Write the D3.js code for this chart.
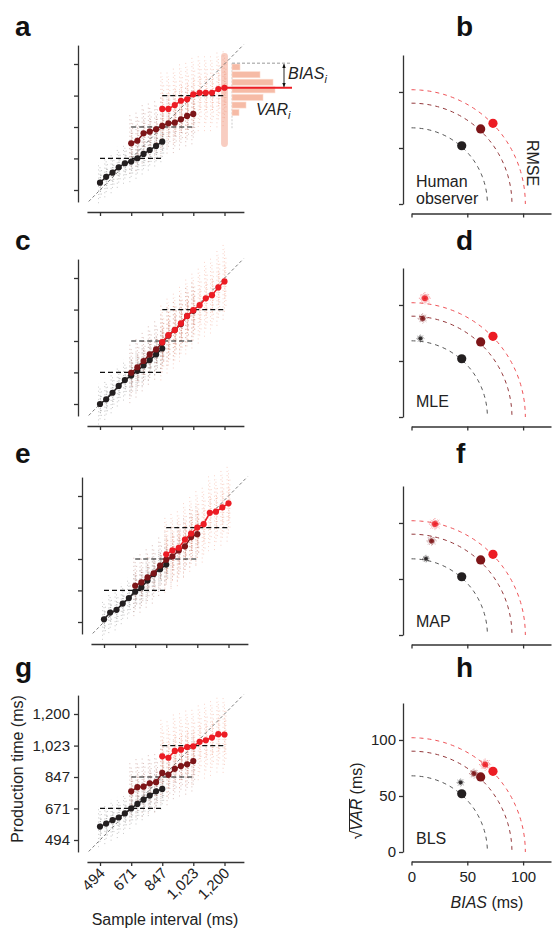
<!DOCTYPE html>
<html>
<head>
<meta charset="utf-8">
<script src="https://cdn.jsdelivr.net/npm/d3@7"></script>
<style>
  body { margin: 0; background: #fff; }
  svg { display: block; font-family: "Liberation Sans", Arial, sans-serif; }
</style>
</head>
<body>
<svg id="chart" width="552" height="930"></svg>
<script>
// ---- data ----
const sampleIntervals = [494, 529, 565, 600, 635, 671, 706, 741, 776, 812, 847,
                         882, 918, 953, 988, 1023, 1059, 1094, 1129, 1165, 1200];
const priorStart = [0, 5, 10];           // first sample interval of short / medium / long prior
const priorMeans = [671, 847, 1023];
const axisTicks = [494, 671, 847, 1023, 1200];
const axisTickLabels = ['494', '671', '847', '1,023', '1,200'];

// mean production times (ms) for each prior
const humanShort  = [535, 568, 591, 621, 644, 653, 672, 696, 718, 741, 765];
const humanMedium = [756, 770, 812, 821, 834, 853, 868, 871, 890, 909, 920];
const humanLong   = [948, 948, 970, 994, 1002, 1030, 1039, 1039, 1039, 1060, 1067];

const mleShort  = [494, 520, 557, 595, 628, 653, 680, 710, 740, 772, 805];
const mleMedium = [669, 700, 735, 772, 800, 837, 877, 908, 942, 987, 1016];
const mleLong   = [841, 880, 908, 946, 987, 1020, 1048, 1086, 1104, 1147, 1181];

const mapShort  = [509, 547, 562, 597, 628, 664, 688, 726, 763, 790, 816];
const mapMedium = [697, 716, 744, 767, 810, 843, 861, 895, 918, 970, 986];
const mapLong   = [873, 895, 910, 956, 990, 1023, 1042, 1106, 1112, 1136, 1159];

const blsShort  = [569, 586, 605, 620, 643, 671, 696, 720, 743, 767, 780];
const blsMedium = [767, 790, 793, 812, 818, 870, 859, 893, 908, 918, 936];
const blsLong   = [963, 955, 993, 1000, 1015, 1019, 1044, 1053, 1068, 1087, 1085];

// approximate half range of the raw trial clouds (ms)
const cloudHalfRange = [115, 170, 215];

// histogram of production times at the longest interval (panel a)
const histBinCenters = [1183, 1140, 1098, 1055, 1013, 970, 928];
const histCounts = [8, 28, 41, 43, 31, 14, 7];
const highlightRange = [735, 1262];      // extent of the highlighted trial column (ms)

// BIAS / sqrt(VAR) (ms)
const rmseRadii = [68, 90, 102];
const humanBias = [45, 62, 73];
const humanSqrtVar = [52, 67, 72];
const mleBias = [8, 10, 12];
const mleSqrtVar = [70, 88, 106];
const mapBias = [13, 18, 21];
const mapSqrtVar = [68, 84, 99];
const blsBias = [44, 56, 66];
const blsSqrtVar = [62, 70, 78];
const rmseTicks = [0, 50, 100];

// ---- style ----
const COLORS = ['#231f20', '#7d1518', '#ec1c24'];
const CLOUD = ['#777', '#a8645a', '#f29276'];
const ARC = ['#555', '#93383b', '#ef5257'];
const AXIS = '#333';

const svg = d3.select('#chart');

const defs = svg.append('defs');
defs.append('marker')
  .attr('id', 'arr').attr('viewBox', '0 0 6 6').attr('refX', 5.5).attr('refY', 3)
  .attr('markerWidth', 5).attr('markerHeight', 5).attr('orient', 'auto-start-reverse')
  .append('path').attr('d', 'M0,0.5 L6,3 L0,5.5 z').attr('fill', '#111');

function styleAxis(sel) {
  sel.select('.domain').attr('stroke', AXIS).attr('stroke-width', 1.3);
  sel.selectAll('.tick line').attr('stroke', AXIS).attr('stroke-width', 1.3);
  sel.selectAll('.tick text').attr('fill', '#222').attr('font-size', 15)
    .attr('font-family', '"Liberation Sans", Arial, sans-serif');
}

function panelLabel(txt, x, y) {
  svg.append('text').attr('x', x).attr('y', y).attr('font-size', 28)
    .attr('font-weight', 'bold').attr('fill', '#111').text(txt);
}

// ---- left column: production time vs sample interval ----
const leftPanels = [
  { label: 'a', labelY: 36,  top: 64,  dx: 0, series: [humanShort, humanMedium, humanLong] },
  { label: 'c', labelY: 250, top: 278, dx: 0, series: [mleShort, mleMedium, mleLong] },
  { label: 'e', labelY: 463, top: 496, dx: 4, series: [mapShort, mapMedium, mapLong] },
  { label: 'g', labelY: 677, top: 714, dx: 0, series: [blsShort, blsMedium, blsLong], labels: true }
];

function drawLeft(p) {
  const g = svg.append('g');
  const x = d3.scaleLinear().domain([494, 1200]).range([100 + p.dx, 224.5 + p.dx]);
  const y = d3.scaleLinear().domain([494, 1200]).range([p.top + 126, p.top]);

  panelLabel(p.label, 15, p.labelY);

  // highlight column (panel a only)
  if (p.label === 'a') {
    g.append('rect')
      .attr('x', x(1200) - 3.4).attr('width', 6.8)
      .attr('y', y(highlightRange[1])).attr('height', y(highlightRange[0]) - y(highlightRange[1]))
      .attr('rx', 3.4).attr('fill', '#f4ab98').attr('opacity', 0.6);
  }

  // raw trial clouds
  p.series.forEach((vals, s) => {
    const xs = sampleIntervals.slice(priorStart[s], priorStart[s] + vals.length);
    const h = cloudHalfRange[s];
    xs.forEach((si, k) => {
      const m = vals[k];
      [[-1.4, '1 3.1', 0, 1], [0, '1 2.3', 1.1, 0.85], [1.4, '1 3.7', 2.2, 0.7]].forEach(([off, dash, dof, f]) => {
        g.append('line')
          .attr('x1', x(si) + off).attr('x2', x(si) + off)
          .attr('y1', y(m - h * f)).attr('y2', y(m + h * f))
          .attr('stroke', CLOUD[s]).attr('stroke-width', 0.8)
          .attr('stroke-dasharray', dash).attr('stroke-dashoffset', dof)
          .attr('opacity', 0.5);
      });
      g.append('line')
        .attr('x1', x(si) + 0.5).attr('x2', x(si) + 0.5)
        .attr('y1', y(m - h * 0.45)).attr('y2', y(m + h * 0.45))
        .attr('stroke', CLOUD[s]).attr('stroke-width', 1)
        .attr('stroke-dasharray', '1 1.3')
        .attr('opacity', 0.5);
    });
  });

  // identity line
  g.append('line')
    .attr('x1', x(430)).attr('y1', y(430)).attr('x2', x(1308)).attr('y2', y(1308))
    .attr('stroke', '#555').attr('stroke-width', 0.8).attr('stroke-dasharray', '3 2.5');

  // prior means
  priorMeans.forEach((pm, s) => {
    g.append('line')
      .attr('x1', x(sampleIntervals[priorStart[s]])).attr('x2', x(sampleIntervals[priorStart[s] + 10]))
      .attr('y1', y(pm)).attr('y2', y(pm))
      .attr('stroke', '#111').attr('stroke-width', 1.2).attr('stroke-dasharray', '5 3');
  });

  // mean production lines
  p.series.forEach((vals, s) => {
    const xs = sampleIntervals.slice(priorStart[s], priorStart[s] + vals.length);
    const pts = xs.map((si, k) => [si, vals[k]]);
    g.append('path')
      .attr('d', d3.line().x(d => x(d[0])).y(d => y(d[1]))(pts))
      .attr('fill', 'none').attr('stroke', COLORS[s]).attr('stroke-width', 1.5);
    g.selectAll(null).data(pts).enter().append('circle')
      .attr('cx', d => x(d[0])).attr('cy', d => y(d[1])).attr('r', 3.1)
      .attr('fill', COLORS[s]);
  });

  // axes
  const yAxScale = d3.scaleLinear().domain([427, 1306]).range([y(427), y(1306)]);
  const yAx = g.append('g').attr('transform', `translate(${x(494) - 22},0)`)
    .call(d3.axisLeft(yAxScale).tickValues(axisTicks).tickSize(4).tickSizeOuter(0)
      .tickPadding(4).tickFormat((d, i) => p.labels ? axisTickLabels[i] : ''));
  styleAxis(yAx);

  const xAxScale = d3.scaleLinear().domain([420, 1310]).range([x(420), x(1310)]);
  const xAx = g.append('g').attr('transform', `translate(0,${p.top + 148})`)
    .call(d3.axisBottom(xAxScale).tickValues(axisTicks).tickSize(4).tickSizeOuter(0)
      .tickFormat(''));
  styleAxis(xAx);

  if (p.labels) {
    axisTicks.forEach((t, i) => {
      g.append('text')
        .attr('transform', `translate(${x(t) + 6},${p.top + 160}) rotate(-45)`)
        .attr('text-anchor', 'end').attr('font-size', 15).attr('fill', '#222')
        .text(axisTickLabels[i]);
    });
    g.append('text')
      .attr('transform', `translate(23,${y(847) - 8}) rotate(-90)`)
      .attr('text-anchor', 'middle').attr('font-size', 16).attr('fill', '#222')
      .text('Production time (ms)');
    g.append('text')
      .attr('x', 165).attr('y', 925)
      .attr('text-anchor', 'middle').attr('font-size', 16).attr('fill', '#222')
      .text('Sample interval (ms)');
  }

  // histogram annotation (panel a)
  if (p.label === 'a') {
    const last = humanLong[humanLong.length - 1];
    const binHalf = 21.3;
    const hx = d3.scaleLinear().domain([0, 43]).range([232, 275]);
    const topY = y(histBinCenters[0] + binHalf);
    g.append('line').attr('x1', 232).attr('x2', 232).attr('y1', topY).attr('y2', y(840))
      .attr('stroke', '#ccc').attr('stroke-width', 1).attr('stroke-dasharray', '2 1.5');
    g.selectAll(null).data(histCounts).enter().append('rect')
      .attr('x', hx(0))
      .attr('y', (d, i) => y(histBinCenters[i] + binHalf) + 0.8)
      .attr('width', d => hx(d) - hx(0))
      .attr('height', (d, i) => y(histBinCenters[i] - binHalf) - y(histBinCenters[i] + binHalf) - 1.6)
      .attr('fill', '#f6bba6').attr('stroke', '#fbd9cc').attr('stroke-width', 0.6);
    g.append('line').attr('x1', 232).attr('x2', 292).attr('y1', topY).attr('y2', topY)
      .attr('stroke', '#bbb').attr('stroke-width', 1.4).attr('stroke-dasharray', '3 2');
    g.append('line').attr('x1', x(1200)).attr('x2', 292).attr('y1', y(last)).attr('y2', y(last))
      .attr('stroke', COLORS[2]).attr('stroke-width', 2);
    g.append('line').attr('x1', 284).attr('x2', 284).attr('y1', topY + 1).attr('y2', y(last) - 1)
      .attr('stroke', '#111').attr('stroke-width', 0.9)
      .attr('marker-start', 'url(#arr)').attr('marker-end', 'url(#arr)');
    const bt = g.append('text').attr('x', 288).attr('y', 79).attr('font-size', 16).attr('fill', '#222');
    bt.append('tspan').attr('font-style', 'italic').text('BIAS');
    bt.append('tspan').attr('font-style', 'italic').attr('font-size', 11).attr('dy', 4).text('i');
    const vt = g.append('text').attr('x', 256).attr('y', 115).attr('font-size', 16).attr('fill', '#222');
    vt.append('tspan').attr('font-style', 'italic').text('VAR');
    vt.append('tspan').attr('font-style', 'italic').attr('font-size', 11).attr('dy', 4).text('i');
  }
}

leftPanels.forEach(drawLeft);

// ---- right column: BIAS vs sqrt(VAR) ----
const rightPanels = [
  { label: 'b', labelY: 36,  base: 204, model: null, text: ['Human', 'observer'], textY: 187 },
  { label: 'd', labelY: 250, base: 417, model: [mleBias, mleSqrtVar], text: ['MLE'], textY: 407 },
  { label: 'f', labelY: 463, base: 635, model: [mapBias, mapSqrtVar], text: ['MAP'], textY: 627 },
  { label: 'h', labelY: 677, base: 852, model: [blsBias, blsSqrtVar], text: ['BLS'], textY: 844, labels: true }
];

function cluster(g, cx, cy, color, size) {
  const c = g.append('g').attr('transform', `translate(${cx},${cy})`);
  d3.range(0, 180, 15).forEach((a, k) => {
    const len = size * [1, 0.7, 0.85][k % 3];
    const r = a * Math.PI / 180;
    c.append('line')
      .attr('x1', -Math.cos(r) * len).attr('y1', -Math.sin(r) * len)
      .attr('x2', Math.cos(r) * len).attr('y2', Math.sin(r) * len)
      .attr('stroke', color).attr('stroke-width', 0.8).attr('opacity', 0.6)
      .attr('stroke-dasharray', '1 0.9');
  });
  c.append('circle').attr('r', size * 0.5).attr('fill', color).attr('opacity', 0.8);
}

function drawRight(p) {
  const g = svg.append('g');
  const x = d3.scaleLinear().domain([0, 125]).range([411.5, 551]);
  const y = d3.scaleLinear().domain([0, 133]).range([p.base, p.base - 149]);

  panelLabel(p.label, 456, p.labelY);

  // RMSE arcs
  rmseRadii.forEach((r, s) => {
    const pts = d3.range(0, 90.5, 1.5).map(a => [r * Math.sin(a * Math.PI / 180), r * Math.cos(a * Math.PI / 180)]);
    g.append('path')
      .attr('d', d3.line().x(d => x(d[0])).y(d => y(d[1]))(pts))
      .attr('fill', 'none').attr('stroke', ARC[s]).attr('stroke-width', 1)
      .attr('stroke-dasharray', '4 4');
  });

  // model clusters
  if (p.model) {
    const sizes = [4, 5, 6];
    p.model[0].forEach((b, s) => cluster(g, x(b), y(p.model[1][s]), COLORS[s], sizes[s]));
  }

  // human observer
  humanBias.forEach((b, s) => {
    g.append('circle').attr('cx', x(b)).attr('cy', y(humanSqrtVar[s])).attr('r', 4.6)
      .attr('fill', COLORS[s]);
  });

  // axes
  const yAxScale = d3.scaleLinear().domain([0, 133]).range([p.base, p.base - 149]);
  const yAx = g.append('g').attr('transform', 'translate(403,0)')
    .call(d3.axisLeft(yAxScale).tickValues(rmseTicks).tickSize(4).tickSizeOuter(0)
      .tickPadding(3).tickFormat(d => p.labels ? d : ''));
  styleAxis(yAx);
  const xAx = g.append('g').attr('transform', `translate(0,${p.base + 9.5})`)
    .call(d3.axisBottom(x).tickValues(rmseTicks).tickSize(4).tickSizeOuter(0)
      .tickPadding(6).tickFormat(d => p.labels ? d : ''));
  styleAxis(xAx);

  // in-panel text
  p.text.forEach((t, i) => {
    g.append('text').attr('x', 416).attr('y', p.textY + i * 17).attr('font-size', 16)
      .attr('fill', '#222').text(t);
  });

  if (p.label === 'b') {
    g.append('text').attr('transform', 'translate(527,163) rotate(90)')
      .attr('text-anchor', 'middle').attr('font-size', 16).attr('fill', '#222').text('RMSE');
  }

  if (p.labels) {
    const bl = g.append('text').attr('x', 487).attr('y', 908).attr('text-anchor', 'middle')
      .attr('font-size', 16).attr('fill', '#222');
    bl.append('tspan').attr('font-style', 'italic').text('BIAS');
    bl.append('tspan').text(' (ms)');

    const yl = g.append('g').attr('transform', 'translate(362,801) rotate(-90)');
    const yt = yl.append('text').attr('text-anchor', 'middle').attr('font-size', 16).attr('fill', '#222');
    yt.append('tspan').text('\u221A');
    yt.append('tspan').attr('font-style', 'italic').text('VAR');
    yt.append('tspan').text(' (ms)');
    const node = yt.node();
    const total = node.getComputedTextLength();
    const w0 = node.getSubStringLength(0, 1);
    const w1 = node.getSubStringLength(1, 3);
    const start = -total / 2 + w0 - 0.5;
    yl.append('line').attr('x1', start).attr('x2', start + w1 + 0.5)
      .attr('y1', -12.5).attr('y2', -12.5).attr('stroke', '#222').attr('stroke-width', 1);
  }
}

rightPanels.forEach(drawRight);
</script>
</body>
</html>
